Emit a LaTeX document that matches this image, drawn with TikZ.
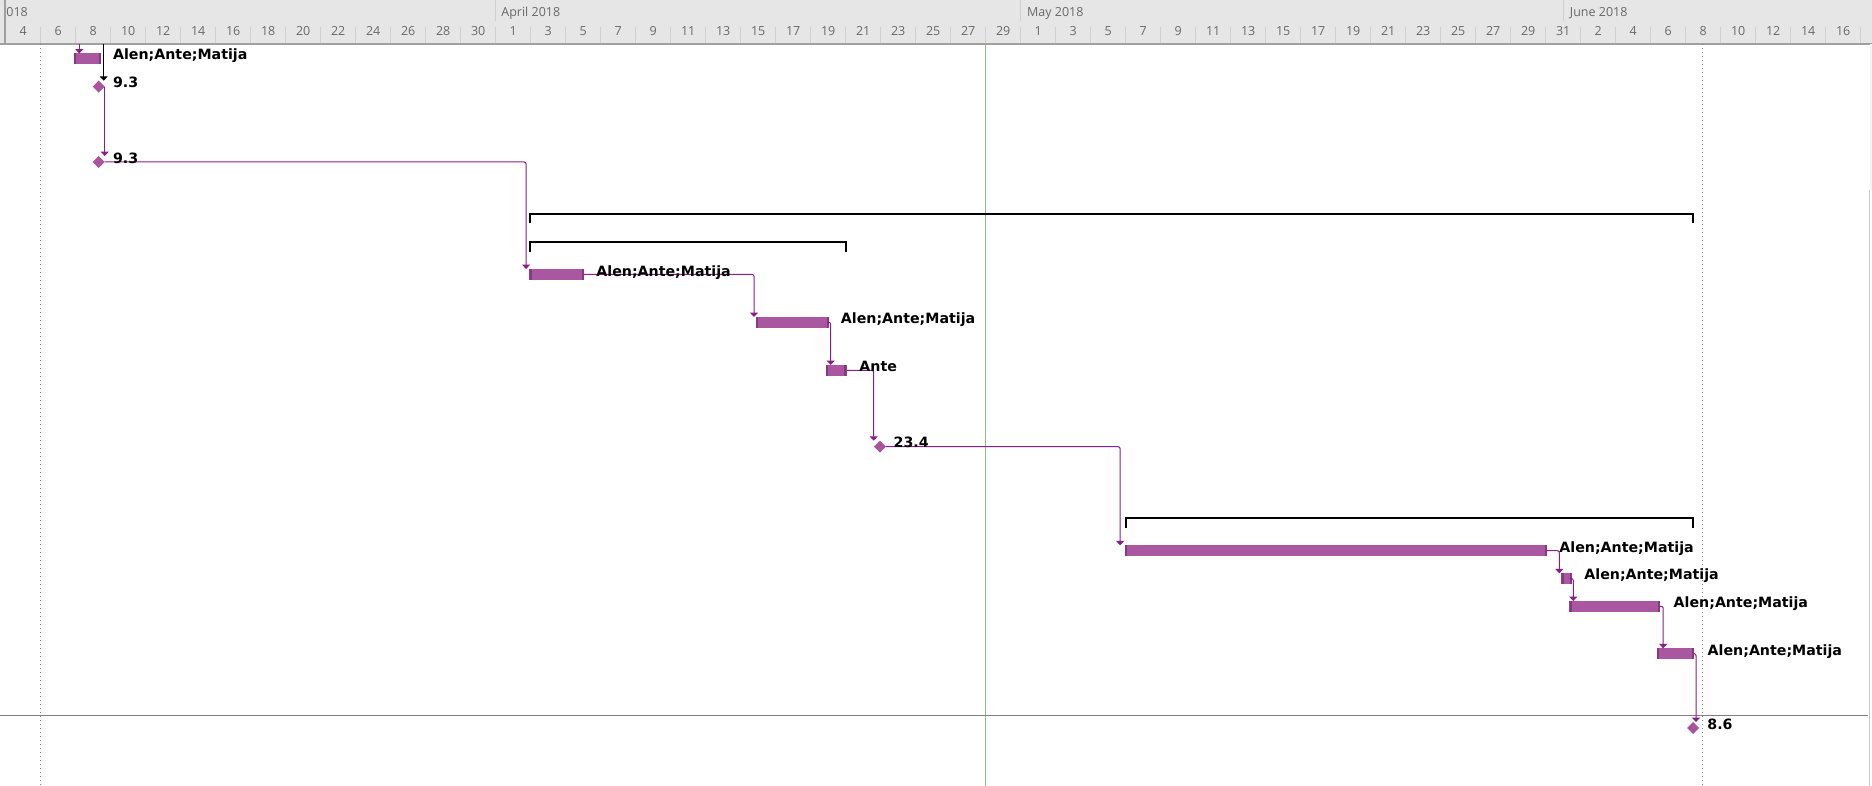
\documentclass[tikz,border=0pt]{standalone}
\usepackage{fontspec}
\setmainfont{DejaVu Sans}
\newfontfamily\scalefont{Open Sans}
\usetikzlibrary{arrows.meta,shapes.geometric,calc}

\definecolor{hdrbg}{RGB}{230,230,230}
\definecolor{hdrrulecol}{RGB}{160,160,160}
\definecolor{hdrtickcol}{RGB}{208,208,208}
\definecolor{hdrtext}{RGB}{105,105,105}
\definecolor{barfill}{RGB}{170,87,161}
\definecolor{barend}{RGB}{132,58,124}
\definecolor{linkcol}{RGB}{140,28,140}
\definecolor{mscol}{RGB}{168,85,158}
\definecolor{nowcol}{RGB}{140,190,140}
\definecolor{gridgray}{RGB}{128,128,128}
\definecolor{edgecol}{RGB}{200,200,200}

\begin{document}
\begin{tikzpicture}[x=0.5pt,y=-0.5pt,
  daytick/.style={draw=hdrtickcol, line width=0.5pt},
  hdrrule/.style={draw=hdrrulecol, line width=0.7pt},
  monthlbl/.style={font=\scalefont\fontsize{6.25}{7}\selectfont, text=hdrtext, inner sep=0pt, anchor=base west},
  daylbl/.style={font=\scalefont\fontsize{6.25}{7}\selectfont, text=hdrtext, inner sep=0pt, anchor=base},
  dotline/.style={draw=gridgray, line width=0.5pt, dash pattern=on 0.5pt off 1.5pt},
  nowline/.style={draw=nowcol, line width=0.5pt},
  sepline/.style={draw=gridgray, line width=0.6pt},
  edgeline/.style={draw=edgecol, line width=0.5pt},
  taskbar/.style={fill=barfill, draw=none, inner sep=0pt, outer sep=0pt,
    minimum height=5.35pt, anchor=north west,
    path picture={
      \fill[barend] (path picture bounding box.north west) rectangle ([xshift=1.2pt]path picture bounding box.south west);
      \fill[barend] ([xshift=-1.2pt]path picture bounding box.north east) rectangle (path picture bounding box.south east);
    }},
  milestone/.style={diamond, fill=mscol, draw=none, inner sep=0pt, outer sep=0pt,
    minimum width=6pt, minimum height=6pt},
  link/.style={draw=linkcol, line width=0.5pt, rounded corners=1pt,
    -{Triangle[width=4pt,length=2.2pt]}},
  summary/.style={draw=black, line width=1pt, line join=miter},
  lbl/.style={font=\fontsize{7.1}{8}\selectfont\bfseries, text=black, inner sep=0pt, anchor=base west}
]
\useasboundingbox (0,0) rectangle (1872,786);
\fill[white] (0,0) rectangle (1872,786);

% ---- timescale ----
\fill[hdrbg] (0,0) rectangle (1872,44);
\foreach \k in {0,...,52} \draw[daytick] ({40.7+35*\k},27) -- ({40.7+35*\k},44);
\foreach \x in {495.7,1020.7,1563.2} \draw[daytick] (\x,0) -- (\x,21);
\draw[hdrrule] (5,0) -- (5,44);
\node[monthlbl] (mMar) at (6,16.7) {018};
\node[monthlbl] (mApr) at (501,16.7) {April 2018};
\node[monthlbl] (mMay) at (1026.7,16.7) {May 2018};
\node[monthlbl] (mJun) at (1569.5,16.7) {June 2018};
\foreach \d [count=\i from 0] in {4,6,8,10,12,14,16,18,20,22,24,26,28,30,
    1,3,5,7,9,11,13,15,17,19,21,23,25,27,29,
    1,3,5,7,9,11,13,15,17,19,21,23,25,27,29,31,
    2,4,6,8,10,12,14,16}
  \node[daylbl] (day\i) at ({23.2+35*\i},36) {\d};
\draw[hdrrule] (0,44) -- (1872,44);

% ---- chart grid ----
\draw[dotline] (40.7,44) -- (40.7,786);
\draw[dotline] (1702.3,44) -- (1702.3,786);
\draw[nowline] (985.3,44) -- (985.3,786);
\draw[sepline] (0,715.5) -- (1868,715.5);
\fill[hdrbg!50] (1869.5,44) rectangle (1872,190);
\draw[edgeline] (1869.5,190) -- (1869.5,786);

% ---- tasks ----
\node[taskbar, minimum width=13.5pt]   (b1) at (74,53.5) {};
\node[milestone] (m1) at (98.7,86.7) {};
\node[milestone] (m2) at (98.7,162) {};
\node[taskbar, minimum width=27.35pt]  (b2) at (529.3,269) {};
\node[taskbar, minimum width=36.65pt]  (b3) at (756,317) {};
\node[taskbar, minimum width=10.35pt]  (b4) at (826,365) {};
\node[milestone] (m3) at (880,446.7) {};
\node[taskbar, minimum width=211.15pt] (b5) at (1124.7,545.3) {};
\node[taskbar, minimum width=5.35pt]   (b6) at (1561.3,573.3) {};
\node[taskbar, minimum width=45.35pt]  (b7) at (1569.3,601) {};
\node[taskbar, minimum width=18.5pt]   (b8) at (1657,648.3) {};
\node[milestone] (m4) at (1693,728) {};

% ---- summary brackets ----
\draw[summary] ($(b2.west |- 0,223.3)+(0.5pt,0)$) -- ($(b2.west |- 0,214)+(0.5pt,0)$)
  -- ($(b8.east |- 0,214)+(-0.5pt,0)$) -- ($(b8.east |- 0,223.3)+(-0.5pt,0)$);
\draw[summary] ($(b2.west |- 0,251.5)+(0.5pt,0)$) -- ($(b2.west |- 0,242.2)+(0.5pt,0)$)
  -- ($(b4.east |- 0,242.2)+(-0.5pt,0)$) -- ($(b4.east |- 0,251.5)+(-0.5pt,0)$);
\draw[summary] ($(b5.west |- 0,527.5)+(0.5pt,0)$) -- ($(b5.west |- 0,518.2)+(0.5pt,0)$)
  -- ($(b8.east |- 0,518.2)+(-0.5pt,0)$) -- ($(b8.east |- 0,527.5)+(-0.5pt,0)$);

% ---- dependency links ----
\coordinate (c0) at (79.3,44);
\draw[link] (c0) -- (c0 |- b1.north);
\coordinate (k0) at (103.7,44);
\draw[link, draw=black] (k0) -- (k0 |- m1.north);
\draw[link] (m1.east) -- (m1.east |- m2.north);
\draw[link] (m2.east) -| ($(b2.north west)+(-1.6pt,0)$);
\draw[link] (b2.east) -| ($(b3.north west)+(-1pt,0)$);
\draw[link] (b3.east) -| ($(b3.east |- b4.north)+(0.7pt,0)$);
\draw[link] (b4.east) -| ($(m3.north)+(-3.15pt,0)$);
\draw[link] (m3.east) -| ($(b5.north west)+(-2.3pt,0)$);
\draw[link] (b5.east) -| ($(b6.north west)+(-1pt,0)$);
\draw[link] (b6.east) -| ($(b6.east |- b7.north)+(0.65pt,0)$);
\draw[link] (b7.east) -| ($(b7.east |- b8.north)+(1.6pt,0)$);
\draw[link] (b8.east) -| ($(b8.east |- m4.north)+(1pt,0)$);

% ---- resource and date labels ----
\node[lbl] (l1)  at ($(b1.east)+(5.85pt,-0.3pt)$) {Alen;Ante;Matija};
\node[lbl] (l2)  at ($(m1.center)+(7pt,-0.5pt)$) {9.3};
\node[lbl] (l3)  at ($(m2.center)+(7pt,-0.65pt)$) {9.3};
\node[lbl] (l4)  at ($(b2.east)+(6pt,-1pt)$) {Alen;Ante;Matija};
\node[lbl] (l5)  at ($(b3.east)+(5.6pt,-0.8pt)$) {Alen;Ante;Matija};
\node[lbl] (l6)  at ($(b4.east)+(6.15pt,-0.7pt)$) {Ante};
\node[lbl] (l7)  at ($(m3.center)+(6.65pt,-0.3pt)$) {23.4};
\node[lbl] (l8)  at ($(b5.east)+(6pt,-1pt)$) {Alen;Ante;Matija};
\node[lbl] (l9)  at ($(b6.east)+(6pt,-0.3pt)$) {Alen;Ante;Matija};
\node[lbl] (l10) at ($(b7.east)+(6.65pt,-0.5pt)$) {Alen;Ante;Matija};
\node[lbl] (l11) at ($(b8.east)+(6.65pt,-1pt)$) {Alen;Ante;Matija};
\node[lbl] (l12) at ($(m4.center)+(7pt,-0.85pt)$) {8.6};
\end{tikzpicture}
\end{document}
